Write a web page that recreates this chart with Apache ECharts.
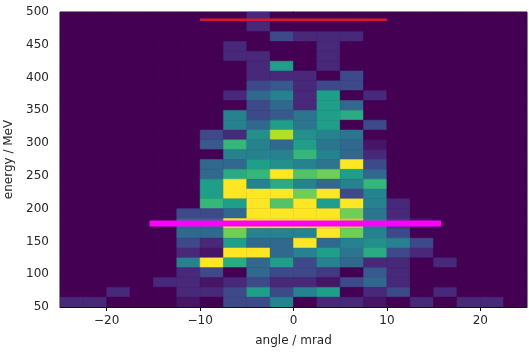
<!DOCTYPE html>
<html>
<head>
<meta charset="utf-8">
<script src="https://cdn.jsdelivr.net/npm/echarts@6/dist/echarts.min.js"></script>
<style>
  html, body { margin: 0; padding: 0; background: #fff; }
  #chart { width: 529px; height: 357px; }
</style>
</head>
<body>
<div id="chart"></div>
<script>
// bin edges of the 2D histogram
const angleEdges = [-25, -22.5, -20, -17.5, -15, -12.5, -10, -7.5, -5, -2.5, 0,
                    2.5, 5, 7.5, 10, 12.5, 15, 17.5, 20, 22.5, 25];
const energyEdges = [50, 65, 80, 95, 110, 125, 140, 155, 170, 185, 200, 215, 230, 245, 260,
                     275, 290, 305, 320, 335, 350, 365, 380, 395, 410, 425, 440, 455, 470, 485, 500];

// counts per bin, rows from top (485-500 MeV) down to bottom (50-65 MeV)
const counts = [
  [0,0,0,0,0,0,0,0,1,0,0,0,0,0,0,0,0,0,0,0],
  [0,0,0,0,0,0,0,0,1,0,0,0,0,0,0,0,0,0,0,0],
  [0,0,0,0,0,0,0,0,0,2,1,1,1,0,0,0,0,0,0,0],
  [0,0,0,0,0,0,0,1,0,0,0,1,0,0,0,0,0,0,0,0],
  [0,0,0,0,0,0,0,1,1,0,0,1,0,0,0,0,0,0,0,0],
  [0,0,0,0,0,0,0,0,1,5,0,1,0,0,0,0,0,0,0,0],
  [0,0,0,0,0,0,0,0,1,1,1,0,2,0,0,0,0,0,0,0],
  [0,0,0,0,0,0,0,0,2,2.5,1,2,2,0,0,0,0,0,0,0],
  [0,0,0,0,0,0,0,1,3,4,1,5,0,1,0,0,0,0,0,0],
  [0,0,0,0,0,0,0,0,2,3,1,5,3,0,0,0,0,0,0,0],
  [0,0,0,0,0,0,0,4,2,2.5,3.5,5,5.5,0,0,0,0,0,0,0],
  [0,0,0,0,0,0,0,4,3,5,3.5,5,0,2,0,0,0,0,0,0],
  [0,0,0,0,0,0,2,1,4.5,8,4.5,4,3.5,0,0,0,0,0,0,0],
  [0,0,0,0,0,0,2.5,6,4,3,5,3.5,3,0.5,0,0,0,0,0,0],
  [0,0,0,0,0,0,0,4,4,4,6,4,3,1,0,0,0,0,0,0],
  [0,0,0,0,0,0,3,3,5,4.5,4,3.5,9,2,0,0,0,0,0,0],
  [0,0,0,0,0,0,3,5.5,6,9,6.5,7,5,3,0,0,0,0,0,0],
  [0,0,0,0,0,0,5,9,4,5.5,4,3,4,6,0,0,0,0,0,0],
  [0,0,0,0,0,0,5,9,9,9,7,9,2,4,0,0,0,0,0,0],
  [0,0,0,0,0,0,6,5,9,6.5,9,5,9,4,1,0,0,0,0,0],
  [0,0,0,0,0,2,2,3,9,9,9,9,7,3.5,1,0,0,0,0,0],
  [0,0,0,0,0,3,3,9,9,9,9,9,8,4,1.5,0.5,0,0,0,0],
  [0,0,0,0,0,3,3,7,4,4,4,9,7,4,2,0,0,0,0,0],
  [0,0,0,0,0,2,1,5,3,3,9,3,4,4.5,4,2,0,0,0,0],
  [0,0,0,0,0,1,0.5,9,9,3,4,5,3.5,5.5,2,1,0,0,0,0],
  [0,0,0,0,0,4,9,5.5,3,5,2,4,3,1,1,0,1,0,0,0],
  [0,0,0,0,0,1,2,0,3,2,2,1.5,0,2.5,1,0,0,0,0,0],
  [0,0,0,0,1,1,0.5,1,2,1,1,0.5,2,3,1,0,0,0,0,0],
  [0,0,1,0,0,1,1,2,5,2,4,5,0,1,2,0,1,0,0,0],
  [1,1,0,0,0,0.5,0,2,2,4,0,1,1,0.5,0,1,0,1,1,0]
];

const angleTicks = [-20, -10, 0, 10, 20];

// the two horizontal marker lines
const upperLineAngle = [-10, 10];
const upperLineEnergy = 488;
const lowerLineAngle = [-15.4, 15.8];
const lowerLineEnergy = 177.5;

const viridis = ['#440154', '#482878', '#3e4989', '#31688e', '#26828e',
                 '#1f9e89', '#35b779', '#6ece58', '#b5de2b', '#fde725'];

const cells = [];
const nRows = energyEdges.length - 1;
counts.forEach(function (row, r) {
  const j = nRows - 1 - r;
  row.forEach(function (v, i) {
    cells.push([angleEdges[i], energyEdges[j], v, angleEdges[i + 1], energyEdges[j + 1]]);
  });
});

const myChart = echarts.init(document.getElementById('chart'), null, { renderer: 'canvas' });

const axisText = { color: '#262626', fontFamily: 'DejaVu Sans', fontSize: 12 };

myChart.setOption({
  animation: false,
  grid: {
    left: 60, right: 2, top: 12, bottom: 50,
    containLabel: false, outerBoundsMode: 'none',
    show: true, borderColor: '#111', borderWidth: 1, backgroundColor: '#440154'
  },
  visualMap: {
    show: false, type: 'continuous', min: 0, max: 9, dimension: 2, seriesIndex: 0,
    inRange: { color: viridis }
  },
  xAxis: {
    type: 'value', min: -25, max: 25,
    name: 'angle / mrad', nameLocation: 'middle', nameGap: 28,
    nameTextStyle: axisText,
    axisLine: { show: true, lineStyle: { color: '#111' } },
    axisTick: { show: true, length: 4, lineStyle: { color: '#111' }, customValues: angleTicks },
    axisLabel: Object.assign({ margin: 8, customValues: angleTicks,
      formatter: function (v) { return v < 0 ? '\u2212' + (-v) : String(v); } }, axisText),
    splitLine: { show: false }
  },
  yAxis: {
    type: 'value', min: 50, max: 500, interval: 50,
    name: 'energy / MeV', nameLocation: 'middle', nameGap: 41, nameRotate: 90,
    nameTextStyle: axisText,
    axisLine: { show: true, lineStyle: { color: '#111' } },
    axisTick: { show: true, length: 4, lineStyle: { color: '#111' } },
    axisLabel: Object.assign({ margin: 11 }, axisText),
    splitLine: { show: false }
  },
  series: [
    {
      type: 'custom',
      clip: true,
      data: cells,
      encode: { x: [0, 3], y: [1, 4] },
      renderItem: function (params, api) {
        const p0 = api.coord([api.value(0), api.value(4)]);
        const p1 = api.coord([api.value(3), api.value(1)]);
        const c = api.visual('color');
        return {
          type: 'rect',
          shape: { x: p0[0], y: p0[1], width: p1[0] - p0[0], height: p1[1] - p0[1] },
          style: { fill: c, stroke: c, lineWidth: 0.5 }
        };
      }
    },
    {
      type: 'line',
      data: [[upperLineAngle[0], upperLineEnergy], [upperLineAngle[1], upperLineEnergy]],
      showSymbol: false, silent: true,
      lineStyle: { color: '#dc143c', width: 2.5 }
    },
    {
      type: 'line',
      data: [[lowerLineAngle[0], lowerLineEnergy], [lowerLineAngle[1], lowerLineEnergy]],
      showSymbol: false, silent: true,
      lineStyle: { color: '#ff00ff', width: 6 }
    }
  ]
});

window.addEventListener('resize', function () {
  myChart.resize();
});
</script>
</body>
</html>
